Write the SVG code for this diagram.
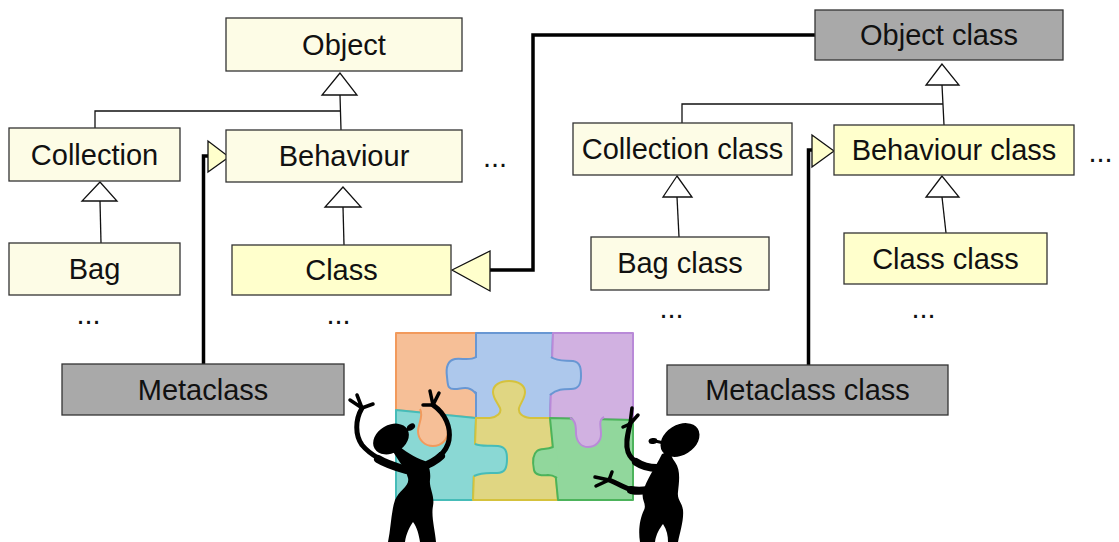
<svg xmlns="http://www.w3.org/2000/svg" width="1119" height="542" viewBox="0 0 1119 542">
  <style>
    .box { stroke: #333333; stroke-width: 1.3; }
    .plain { fill: #fdfce6; }
    .hi { fill: #ffffcc; }
    .meta { fill: #a9a9a9; }
    .lbl { font-family: "Liberation Sans", Arial, sans-serif; font-size: 29px; fill: #111111; text-anchor: middle; }
    .thin { fill: none; stroke: #111111; stroke-width: 1.3; }
    .thick { fill: none; stroke: #000000; stroke-width: 3.5; }
    .gen { fill: #ffffff; stroke: #111111; stroke-width: 1.3; }
    .inst { fill: #ffffcc; stroke: #111111; stroke-width: 1.3; }
    .arm { fill: none; stroke: #000000; stroke-linecap: round; stroke-linejoin: round; }
  </style>

  <!-- connectors -->
  <g id="connectors">
    <!-- class side generalizations -->
    <path class="thin" d="M340 95 L341 130 M340 111 H95 V128"/>
    <path class="thin" d="M100 201 L101 243"/>
    <path class="thin" d="M343 207 L344 245"/>
    <polygon class="gen" points="340,73 322,95 357,95"/>
    <polygon class="gen" points="100,182 82,201 117,201"/>
    <polygon class="gen" points="343,187 325,207 361,207"/>

    <!-- metaclass side generalizations -->
    <path class="thin" d="M942 85 L944 125 M943 104 H682 V123"/>
    <path class="thin" d="M677 197 L679 237"/>
    <path class="thin" d="M942 197 L946 233"/>
    <polygon class="gen" points="942,64 926,85 959,85"/>
    <polygon class="gen" points="677,176 663,197 692,197"/>
    <polygon class="gen" points="942,176 926,197 959,197"/>

    <!-- instance-of links -->
    <path class="thick" d="M209 156 H203.5 V364"/>
    <polygon class="inst" points="229,157 208,141 208,172"/>
    <path class="thick" d="M489 270 H533 V35 H815"/>
    <polygon class="inst" points="452,270 490,251 490,291"/>
    <path class="thick" d="M813 150 H808.5 V365"/>
    <polygon class="inst" points="834,151 812,135 812,167"/>
  </g>

  <!-- class level -->
  <g id="object">
    <rect class="box plain" x="226" y="18" width="236" height="53"/>
    <text class="lbl" x="344" y="55">Object</text>
  </g>
  <g id="collection">
    <rect class="box plain" x="9" y="128" width="171" height="53"/>
    <text class="lbl" x="94.5" y="165">Collection</text>
  </g>
  <g id="behaviour">
    <rect class="box plain" x="226" y="130" width="236" height="52"/>
    <text class="lbl" x="344" y="166">Behaviour</text>
  </g>
  <g id="bag">
    <rect class="box plain" x="9" y="243" width="171" height="52"/>
    <text class="lbl" x="94.5" y="279">Bag</text>
  </g>
  <g id="class">
    <rect class="box hi" x="232" y="245" width="219" height="50"/>
    <text class="lbl" x="341.5" y="280">Class</text>
  </g>
  <g id="metaclass">
    <rect class="box meta" x="62" y="364" width="282" height="51"/>
    <text class="lbl" x="203" y="400">Metaclass</text>
  </g>
  <g id="ellipses-left">
    <text class="lbl" x="495" y="167">...</text>
    <text class="lbl" x="88.5" y="324">...</text>
    <text class="lbl" x="338.5" y="324">...</text>
  </g>

  <!-- metaclass level -->
  <g id="object-class">
    <rect class="box meta" x="815" y="10" width="248" height="50"/>
    <text class="lbl" x="939" y="45">Object class</text>
  </g>
  <g id="collection-class">
    <rect class="box plain" x="573" y="123" width="219" height="52"/>
    <text class="lbl" x="682.5" y="159">Collection class</text>
  </g>
  <g id="behaviour-class">
    <rect class="box hi" x="834" y="125" width="240" height="50"/>
    <text class="lbl" x="954" y="160">Behaviour class</text>
  </g>
  <g id="bag-class">
    <rect class="box plain" x="591" y="237" width="178" height="53"/>
    <text class="lbl" x="680" y="273">Bag class</text>
  </g>
  <g id="class-class">
    <rect class="box hi" x="844" y="233" width="203" height="51"/>
    <text class="lbl" x="945.5" y="269">Class class</text>
  </g>
  <g id="metaclass-class">
    <rect class="box meta" x="667" y="365" width="281" height="50"/>
    <text class="lbl" x="807.5" y="400">Metaclass class</text>
  </g>
  <g id="ellipses-right">
    <text class="lbl" x="1100.5" y="162">...</text>
    <text class="lbl" x="671.5" y="318">...</text>
    <text class="lbl" x="923.5" y="318">...</text>
  </g>

  <!-- jigsaw puzzle -->
  <g id="puzzle" stroke-width="2" stroke-linejoin="round">
    <polygon fill="#f6bf97" stroke="#f29a5c" points="396,333 476,333 476,418 396,410"/>
    <polygon fill="#adc8ec" stroke="#6897d3" points="476,333 553,333 550,418 476,418"/>
    <polygon fill="#d1b1e1" stroke="#b98ad8" points="553,333 633,333 633,420 550,418"/>
    <polygon fill="#8ad8d4" stroke="#46bcb8" points="396,410 476,418 473,500 396,500"/>
    <polygon fill="#e0d682" stroke="#d5c23c" points="476,418 550,418 558,500 473,500"/>
    <polygon fill="#91d79c" stroke="#4cb35b" points="550,418 633,420 633,500 558,500"/>

    <!-- blue tab into orange -->
    <path fill="#adc8ec" d="M479,357 C470,361 462,358 455,359 C446,361 446,370 447,377 C448,385 447,390 456,389 C464,388 470,386 479,394 Z"/>
    <path fill="none" stroke="#6897d3" d="M476,357 C470,361 462,358 455,359 C446,361 446,370 447,377 C448,385 447,390 456,389 C464,388 470,386 476,394"/>
    <!-- blue tab into purple -->
    <path fill="#adc8ec" d="M548,357 C558,362 566,360 573,361 C581,362 581,370 581,376 C581,384 579,389 571,389 C563,389 557,389 548,395 Z"/>
    <path fill="none" stroke="#6897d3" d="M551,357 C558,362 566,360 573,361 C581,362 581,370 581,376 C581,384 579,389 571,389 C563,389 557,389 550,395"/>
    <!-- yellow tab into blue -->
    <path fill="#e0d682" d="M490,421 L490,418 C497,417 502,413 500,408 C497,402 493,398 493,392 C493,385 500,381 509,381 C518,381 525,385 525,392 C525,398 521,402 519,408 C518,413 522,417 530,418 L530,421 Z"/>
    <path fill="none" stroke="#d5c23c" d="M490,418 C497,417 502,413 500,408 C497,402 493,398 493,392 C493,385 500,381 509,381 C518,381 525,385 525,392 C525,398 521,402 519,408 C518,413 522,417 530,418"/>
    <!-- orange tab into teal -->
    <path fill="#f6bf97" d="M420,406 C424,416 418,424 418,431 C418,440 425,446 433,446 C442,446 448,439 448,431 C448,424 442,420 444,410 Z"/>
    <path fill="none" stroke="#f29a5c" d="M420,409 C424,416 418,424 418,431 C418,440 425,446 433,446 C442,446 448,439 448,431 C448,424 442,420 444,413"/>
    <!-- purple tab into green -->
    <path fill="#d1b1e1" d="M570,415 C576,420 576,428 576,434 C577,443 582,447 588,447 C595,447 601,442 601,434 C601,426 598,420 604,414 Z"/>
    <path fill="none" stroke="#b98ad8" d="M570,418 C576,420 576,428 576,434 C577,443 582,447 588,447 C595,447 601,442 601,434 C601,426 598,420 604,417"/>
    <!-- teal tab into yellow -->
    <path fill="#8ad8d4" d="M472,444 C482,447 490,445 498,446 C506,447 507,452 507,459 C507,468 505,473 497,473 C489,473 482,472 472,476 Z"/>
    <path fill="none" stroke="#46bcb8" d="M475,444 C482,447 490,445 498,446 C506,447 507,452 507,459 C507,468 505,473 497,473 C489,473 482,472 474,476"/>
    <!-- green tab into yellow -->
    <path fill="#91d79c" d="M556,447 C546,450 540,448 537,451 C532,455 533,465 534,470 C535,475 542,476 548,475 C553,475 556,476 560,479 Z"/>
    <path fill="none" stroke="#4cb35b" d="M553,447 C546,450 540,448 537,451 C532,455 533,465 534,470 C535,475 542,476 548,475 C553,475 554,476 557,478"/>
  </g>

  <!-- figure on the left, arms raised -->
  <g id="figure-left" fill="#000000">
    <ellipse cx="391" cy="439" rx="19" ry="14" transform="rotate(-30 391 439)"/>
    <path class="arm" stroke-width="3" d="M402 433 L410 428"/>
    <ellipse cx="411" cy="427" rx="4.5" ry="3" transform="rotate(-35 411 427)"/>
    <path d="M392,450 C398,460 406,470 408,478 C410,486 399,490 395,500 C391,512 391,528 388,542 L405,542 C406,534 410,526 413,522 C417,527 419,535 420,542 L436,542 C435,530 431,516 433,506 C435,496 429,488 430,480 C431,472 429,464 425,461 C414,457 404,451 396,443 Z"/>
    <path class="arm" stroke-width="5" d="M404 469 C388 464 372 457 362 445 C355 435 355 420 362 408"/>
    <path class="arm" stroke-width="8" d="M406 470 C396 467 386 464 378 459"/>
    <path class="arm" stroke-width="5" d="M421 467 C435 462 447 452 449 440 C451 428 446 414 433 405"/>
    <path class="arm" stroke-width="8" d="M419 468 C428 465 436 461 441 456"/>
    <path class="arm" stroke-width="3.5" d="M362 408 L350 400 M362 408 L357 395 M362 408 L373 404"/>
    <path class="arm" stroke-width="3.5" d="M433 405 L430 391 M433 405 L439 393 M433 405 L423 405"/>
  </g>

  <!-- figure on the right, reaching for the puzzle -->
  <g id="figure-right" fill="#000000">
    <ellipse cx="680" cy="440" rx="21" ry="15" transform="rotate(-32 680 440)"/>
    <path class="arm" stroke-width="3" d="M664 443 L655 441"/>
    <ellipse cx="653" cy="441" rx="4.5" ry="3" transform="rotate(-10 653 441)"/>
    <path d="M662,454 C655,468 646,480 643,492 C641,500 647,504 644,510 C640,518 638,530 640,542 L655,542 C656,534 660,528 663,524 C667,530 668,536 668,542 L678,542 C680,532 684,520 683,510 C682,502 677,500 678,492 C679,482 681,470 675,462 C672,458 671,455 670,451 Z"/>
    <path class="arm" stroke-width="5" d="M657 468 C643 467 632 462 628 452 C625 443 628 433 630 424"/>
    <path class="arm" stroke-width="8" d="M657 468 C649 468 642 466 636 462"/>
    <path class="arm" stroke-width="5" d="M648 490 C640 492 630 490 622 486 C616 483 612 481 609 480"/>
    <path class="arm" stroke-width="8" d="M648 490 C642 491 636 491 631 490"/>
    <path class="arm" stroke-width="3.5" d="M630 424 L632 408 M630 424 L638 415 M630 424 L623 427"/>
    <path class="arm" stroke-width="3.5" d="M609 480 L595 477 M609 480 L612 472 M609 480 L596 486"/>
  </g>
</svg>
